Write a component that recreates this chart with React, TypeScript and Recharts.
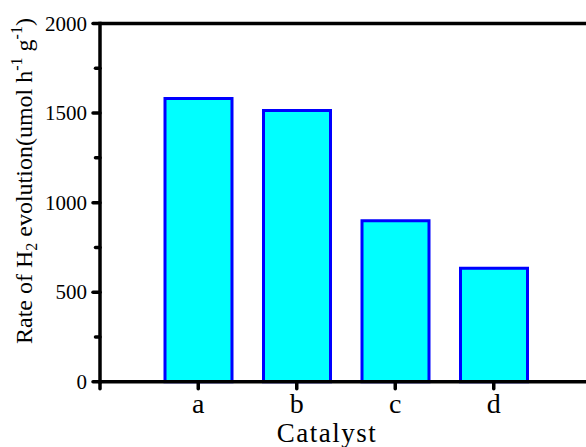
import { Bar, BarChart, ReferenceLine, XAxis, YAxis } from "recharts";

const catalysts = ["a", "b", "c", "d"];
const rates = [1582, 1515, 899, 634];
const yTicks = [0, 250, 500, 750, 1000, 1250, 1500, 1750, 2000];

const data = catalysts.map((name, i) => ({ name, rate: rates[i] }));

const FONT = '"Liberation Serif", "Times New Roman", serif';

function YTick({ x, y, payload }: any) {
  const major = payload.value % 500 === 0;
  return (
    <g>
      <line x1={x} x2={x - (major ? 7 : 4.5)} y1={y} y2={y} stroke="#000" strokeWidth={3.5} strokeLinecap="round" />
      {payload.value === 0 && (
        <line x1={x} x2={x} y1={y} y2={y + 7} stroke="#000" strokeWidth={3.5} strokeLinecap="round" />
      )}
      {major && (
        <text x={x - 13} y={y + 7} textAnchor="end" fontSize={21} fontFamily={FONT} fill="#000">
          {payload.value}
        </text>
      )}
    </g>
  );
}

function XTick({ x, y, payload }: any) {
  return (
    <g>
      <line x1={x} x2={x} y1={y} y2={y + 7} stroke="#000" strokeWidth={3.5} strokeLinecap="round" />
      <text x={x} y={y + 31} textAnchor="middle" fontSize={28} fontFamily={FONT} fill="#000">
        {payload.value}
      </text>
    </g>
  );
}

function XLabel({ viewBox }: any) {
  const cx = viewBox.x + viewBox.width / 2 - 16;
  return (
    <text x={cx} y={viewBox.y + 59.7} textAnchor="middle" fontSize={27} letterSpacing={1.5} fontFamily={FONT} fill="#000">
      Catalyst
    </text>
  );
}

function YLabel({ viewBox }: any) {
  const cx = 31.7;
  const cy = viewBox.y + viewBox.height / 2 - 21.6;
  return (
    <text
      transform={`rotate(-90, ${cx}, ${cy})`}
      x={cx}
      y={cy}
      textAnchor="middle"
      fontSize={24}
      fontFamily={FONT}
      fill="#000"
    >
      Rate of H
      <tspan dy={5} fontSize={16}>2</tspan>
      <tspan dy={-5}> evolution(umol h</tspan>
      <tspan dy={-10} fontSize={16}>-1</tspan>
      <tspan dy={10}> g</tspan>
      <tspan dy={-10} fontSize={16}>-1</tspan>
      <tspan dy={10}>)</tspan>
    </text>
  );
}

export default function App() {
  return (
    <div style={{ position: "absolute", left: 0, top: 0, background: "#fff" }}>
      <BarChart width={586} height={447} data={data} margin={{ top: 23.5, right: 0, bottom: 0, left: 0 }}>
        <ReferenceLine y={2000} stroke="#000" strokeWidth={3.5} />
        <Bar
          dataKey="rate"
          fill="#00FFFF"
          stroke="#0000FF"
          strokeWidth={3}
          barSize={67}
          isAnimationActive={false}
        />
        <XAxis
          dataKey="name"
          height={65.2}
          padding={{ left: 49, right: 43 }}
          axisLine={{ stroke: "#000", strokeWidth: 3.5 }}
          tickLine={false}
          tickSize={0}
          tickMargin={0}
          interval={0}
          tick={<XTick />}
          label={<XLabel />}
        />
        <YAxis
          width={100}
          domain={[0, 2000]}
          ticks={yTicks}
          interval={0}
          axisLine={{ stroke: "#000", strokeWidth: 3.5, strokeLinecap: "square" }}
          tickLine={false}
          tickSize={0}
          tickMargin={0}
          tick={<YTick />}
          label={<YLabel />}
        />
      </BarChart>
    </div>
  );
}
